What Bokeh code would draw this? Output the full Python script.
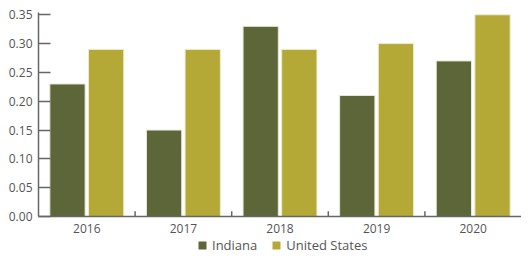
from bokeh.plotting import figure
from bokeh.layouts import column
from bokeh.models import ColumnDataSource, FixedTicker, Legend, LegendItem, Range1d
from bokeh.embed import file_html
from bokeh.resources import INLINE

years = ["2016", "2017", "2018", "2019", "2020"]
indiana = [0.23, 0.15, 0.33, 0.21, 0.27]
united_states = [0.29, 0.29, 0.29, 0.30, 0.35]
y_ticks = [0.00, 0.05, 0.10, 0.15, 0.20, 0.25, 0.30, 0.35]
series_names = ["Indiana", "United States"]

FONT = "Open Sans"
TXT = "#555555"
C_IN = "#5d6638"
C_US = "#b4a836"
AX = "#666666"

centers = [i + 0.5 for i in range(len(years))]
src = ColumnDataSource(dict(
    x_in=[c - 0.2 for c in centers], x_us=[c + 0.2 for c in centers],
    indiana=indiana, us=united_states))

p = figure(width=521, height=236, output_backend="svg", toolbar_location=None,
           x_range=Range1d(0, len(years)), y_range=Range1d(0, 0.354),
           min_border_left=38, min_border_right=0, min_border_top=12, min_border_bottom=20)
p.outline_line_color = None
p.grid.visible = False

p.vbar(x="x_in", top="indiana", width=0.365, source=src, fill_color=C_IN,
       line_color="#e8e8d8", line_width=1)
p.vbar(x="x_us", top="us", width=0.365, source=src, fill_color=C_US,
       line_color="#ecebd0", line_width=1)

# category separators
seps = list(range(1, len(years)))
p.segment(x0=seps, x1=seps, y0=[0] * len(seps), y1=[0.009] * len(seps),
          line_color=AX, line_width=1.5)

xa = p.xaxis[0]
xa.ticker = FixedTicker(ticks=centers)
xa.major_label_overrides = {c: y for c, y in zip(centers, years)}
xa.major_tick_in = 0
xa.major_tick_out = 0
xa.minor_tick_line_color = None
xa.axis_line_color = AX
xa.axis_line_width = 1.5
xa.major_label_text_font = FONT
xa.major_label_text_font_size = "12px"
xa.major_label_text_color = TXT
xa.major_label_standoff = 7

ya = p.yaxis[0]
ya.ticker = FixedTicker(ticks=y_ticks)
ya.major_label_overrides = {t: f"{t:.2f}" for t in y_ticks}
ya.major_tick_in = 12
ya.major_tick_out = 0
ya.major_tick_line_color = AX
ya.major_tick_line_width = 1.5
ya.minor_tick_line_color = None
ya.axis_line_color = AX
ya.axis_line_width = 1.5
ya.major_label_text_font = FONT
ya.major_label_text_font_size = "12px"
ya.major_label_text_color = TXT
ya.major_label_standoff = 6

# legend strip
p2 = figure(width=521, height=19, output_backend="svg", toolbar_location=None,
            x_range=Range1d(0, 1), y_range=Range1d(0, 1),
            min_border_left=0, min_border_right=0, min_border_top=0, min_border_bottom=0)
p2.outline_line_color = None
p2.grid.visible = False
p2.axis.visible = False
d1 = p2.vbar(x=[5], top=[5], width=0.1, fill_color=C_IN, line_color=None)
d2 = p2.vbar(x=[5], top=[5], width=0.1, fill_color=C_US, line_color=None)
legend = Legend(items=[LegendItem(label=series_names[0], renderers=[d1]),
                       LegendItem(label=series_names[1], renderers=[d2])],
                orientation="horizontal", location=(159, 1),
                label_text_font=FONT, label_text_font_size="13px",
                label_text_color=TXT, glyph_width=10, glyph_height=10,
                label_height=12, spacing=14, label_standoff=5, padding=1, margin=0,
                border_line_color=None, background_fill_alpha=0)
p2.add_layout(legend)

layout = column(p, p2, spacing=0)
open("out.html", "w").write(file_html(layout, INLINE))
